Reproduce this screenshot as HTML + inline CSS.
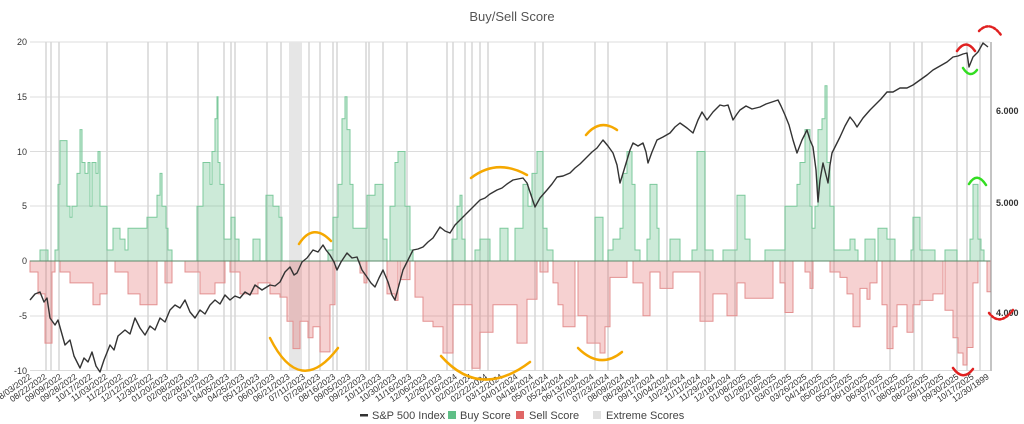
<!DOCTYPE html>
<html><head><meta charset="utf-8"><style>
html,body{margin:0;padding:0;background:#fff;}
svg{display:block;font-family:"Liberation Sans",Arial,sans-serif;}
</style></head><body>
<svg width="1024" height="424" viewBox="0 0 1024 424" xmlns="http://www.w3.org/2000/svg">
<rect width="1024" height="424" fill="#fff"/>
<text x="512" y="21" text-anchor="middle" font-size="13" fill="#555">Buy/Sell Score</text>
<g stroke="#dcdcdc" stroke-width="1">
<line x1="30" x2="990" y1="42" y2="42"/><line x1="30" x2="990" y1="97" y2="97"/>
<line x1="30" x2="990" y1="151.5" y2="151.5"/><line x1="30" x2="990" y1="206" y2="206"/>
<line x1="30" x2="990" y1="316" y2="316"/><line x1="30" x2="990" y1="370.5" y2="370.5"/>
</g>
<rect x="289" y="42" width="13" height="329" fill="#e6e6e6"/>
<path stroke="#d6d6d6" stroke-width="1.5" d="M46 42V371M51 42V371M59 42V371M107 42V371M148 42V371M167 42V371M198 42V371M224 42V371M231 42V371M235 42V371M267 42V371M281 42V371M309 42V371M320 42V371M333 42V371M337 42V371M366 42V371M369 42V371M383 42V371M407 42V371M447 42V371M453 42V371M465 42V371M472 42V371M480 42V371M488 42V371M535 42V371M543 42V371M595 42V371M608 42V371M667 42V371M705 42V371M735 42V371M785 42V371M812 42V371M834 42V371M890 42V371M914 42V371M922 42V371M957 42V371M967 42V371M980 42V371"/>
<path fill="rgba(95,191,135,0.32)" stroke="#7cc99c" stroke-width="1" d="M40 261V250H48V261Z
M55 261V250H58V184.4H60V140.6H67V206.3H70V217.2H72V206.3H77V173.4H80V129.6H82V162.5H85V173.4H88V162.5H90V206.3H92V162.5H96V173.4H98V151.5H100V206.3H107V250H113V228.2H120V239.1H125V250H128V228.2H147V217.2H157V195.3H160V173.4H162V206.3H166V228.2H168V250H172V261Z
M197 261V206.3H203V162.5H210V184.4H212V151.5H215V118.7H217V96.8H218V162.5H220V184.4H224V239.1H231V217.2H235V239.1H239V261Z
M253 261V239.1H260V261Z
M266 261V195.3H273V206.3H279V217.2H282V261Z
M328 261V250H333V217.2H338V184.4H342V118.7H345V96.8H347V129.6H350V184.4H353V228.2H367V195.3H375V184.4H383V239.1H387V261Z
M390 261V206.3H395V162.5H398V151.5H405V206.3H410V250H413V261Z
M452 261V239.1H457V206.3H460V195.3H462V239.1H465V261Z
M475 261V250H480V239.1H490V261Z
M500 261V228.2H508V261Z
M515 261V228.2H523V184.4H528V206.3H532V173.4H537V151.5H543V228.2H547V250H553V261Z
M595 261V217.2H603V261Z
M608 261V250H613V239.1H620V228.2H623V173.4H627V151.5H632V184.4H635V250H640V261Z
M647 261V239.1H650V184.4H657V228.2H659V261Z
M670 261V239.1H680V261Z
M692 261V250H697V151.5H705V250H713V261Z
M723 261V250H737V195.3H745V239.1H750V261Z
M765 261V250H785V206.3H797V184.4H800V162.5H805V129.6H810V206.3H812V228.2H815V206.3H818V129.6H822V118.7H825V85.8H827V162.5H830V206.3H834V250H850V239.1H855V250H858V261Z
M865 261V239.1H875V261Z
M878 261V228.2H887V239.1H895V261Z
M911 261V250H913V217.2H920V250H935V261Z
M945 261V250H957V261Z
M970 261V239.1H973V184.4H978V239.1H981V250H984V261Z"/>
<path fill="rgba(224,102,102,0.3)" stroke="#e39090" stroke-width="1" d="M30 261V272H38V293.9H45V343.1H52V272H55V261Z
M60 261V272H70V282.9H93V304.8H100V293.9H107V261Z
M115 261V272H128V293.9H140V304.8H157V261Z
M165 261V282.9H172V261Z
M185 261V272H200V293.9H215V282.9H225V261Z
M230 261V272H240V293.9H258V282.9H270V293.9H280V297.1H287V321.2H293V348.6H300V321.2H308V337.7H313V326.7H320V351.9H330V304.8H335V261Z
M360 261V273H364V282.9H367V261Z
M387 261V293.9H395V300.4H398V261Z
M400 261V279.6H410V261Z
M415 261V297.1H423V321.2H433V326.7H443V353H453V304.8H472V368.3H480V332.2H493V304.8H517V343.1H527V299.3H537V261Z
M540 261V272H548V261Z
M553 261V282.9H558V304.8H563V326.7H575V261Z
M578 261V315.8H587V343.1H600V353H605V326.7H610V277.4H627V261Z
M633 261V282.9H643V315.8H650V272H660V288.4H673V272H700V321.2H713V293.9H727V315.8H737V282.9H745V298.2H773V261Z
M780 261V282.9H785V312.5H793V261Z
M805 261V272H810V288.4H813V261Z
M830 261V272H840V277.4H847V293.9H853V326.7H860V288.4H867V299.3H870V282.9H877V261Z
M882 261V304.8H887V348.6H893V326.7H897V304.8H907V332.2H913V304.8H920V300.4H933V293.9H943V261Z
M945 261V310.3H953V337.7H958V353H963V365H967V347.5H973V282.9H978V261Z
M987 261V291.7H991V261Z"/>
<line x1="30" x2="990" y1="261" y2="261" stroke="#5a8a6a" stroke-width="1"/>
<polyline fill="none" stroke="#333" stroke-width="1.4" stroke-linejoin="round" points="30,300 35,294 40,292 44,302 47,298 50,318 55,325 58,320 65,345 70,340 74,356 80,368 84,358 88,362 92,352 96,366 100,372 104,360 110,345 114,350 118,336 125,330 130,334 135,318 140,328 145,335 150,326 155,330 160,318 165,322 170,310 175,305 180,308 185,300 190,312 195,318 200,310 205,314 210,305 215,300 220,304 225,295 230,300 235,296 240,298 245,292 250,295 255,285 262,290 270,285 275,286 280,282 285,272 290,267 294,275 297,273 302,262 307,258 313,250 318,252 323,245 326,250 330,255 334,262 337,270 341,262 347,253 352,258 357,257 362,270 367,277 371,283 375,287 379,278 383,270 388,282 392,295 395,300 399,285 403,270 408,260 413,250 418,249 423,247 428,242 433,238 440,227 445,231 450,233 455,225 460,220 465,215 470,210 475,205 480,200 485,198 490,194 497,190 502,188 507,184 513,180 518,179 523,178 527,183 531,195 535,207 540,198 547,190 552,184 557,177 563,176 570,173 575,168 580,164 587,157 592,152 597,148 603,140 608,146 613,153 617,165 620,183 624,170 627,160 630,150 633,143 638,146 643,143 646,152 648,163 652,152 657,140 663,137 670,133 675,127 680,123 687,128 693,133 698,120 702,112 707,120 713,112 720,105 724,106 728,105 733,120 737,114 740,110 746,106 752,109 760,107 766,104 772,102 778,100 781,106 785,115 789,125 793,140 797,153 802,140 807,130 810,140 813,147 816,170 818,202 820,180 823,163 826,175 828,183 830,165 832,153 836,145 840,137 845,126 850,117 854,122 857,127 863,118 870,110 876,104 881,99 887,92 893,92 900,88 907,88 913,85 920,80 927,75 933,70 940,66 947,62 953,57 958,56 963,54 967,53 969,67 971,62 973,57 978,52 983,43 988,47"/>
<line x1="991" x2="991" y1="42" y2="371" stroke="#888" stroke-width="1"/>
<g font-size="9" fill="#333" text-anchor="end">
<text x="27" y="45">20</text><text x="27" y="100">15</text><text x="27" y="155">10</text>
<text x="27" y="209">5</text><text x="27" y="264">0</text><text x="27" y="319">-5</text><text x="27" y="374">-10</text>
</g>
<g font-size="9" fill="#333" font-weight="bold">
<text x="996" y="114">6.000</text><text x="996" y="206">5.000</text><text x="996" y="316">4.000</text>
</g>
<g font-size="8.5" fill="#333" text-anchor="end">
<text transform="translate(32,378) rotate(-35)">08/03/2022</text>
<text transform="translate(47.2,378) rotate(-35)">08/22/2022</text>
<text transform="translate(62.4,378) rotate(-35)">09/09/2022</text>
<text transform="translate(77.6,378) rotate(-35)">09/28/2022</text>
<text transform="translate(92.8,378) rotate(-35)">10/17/2022</text>
<text transform="translate(108,378) rotate(-35)">11/03/2022</text>
<text transform="translate(123.2,378) rotate(-35)">11/22/2022</text>
<text transform="translate(138.4,378) rotate(-35)">12/12/2022</text>
<text transform="translate(153.6,378) rotate(-35)">12/30/2022</text>
<text transform="translate(168.8,378) rotate(-35)">01/20/2023</text>
<text transform="translate(184,378) rotate(-35)">02/08/2023</text>
<text transform="translate(199.2,378) rotate(-35)">02/28/2023</text>
<text transform="translate(214.4,378) rotate(-35)">03/17/2023</text>
<text transform="translate(229.6,378) rotate(-35)">04/05/2023</text>
<text transform="translate(244.8,378) rotate(-35)">04/25/2023</text>
<text transform="translate(260,378) rotate(-35)">05/12/2023</text>
<text transform="translate(275.2,378) rotate(-35)">06/01/2023</text>
<text transform="translate(290.4,378) rotate(-35)">06/21/2023</text>
<text transform="translate(305.6,378) rotate(-35)">07/11/2023</text>
<text transform="translate(320.8,378) rotate(-35)">07/28/2023</text>
<text transform="translate(336,378) rotate(-35)">08/16/2023</text>
<text transform="translate(351.2,378) rotate(-35)">09/05/2023</text>
<text transform="translate(366.4,378) rotate(-35)">09/22/2023</text>
<text transform="translate(381.6,378) rotate(-35)">10/11/2023</text>
<text transform="translate(396.8,378) rotate(-35)">10/30/2023</text>
<text transform="translate(412,378) rotate(-35)">11/16/2023</text>
<text transform="translate(427.2,378) rotate(-35)">12/06/2023</text>
<text transform="translate(442.4,378) rotate(-35)">12/26/2023</text>
<text transform="translate(457.6,378) rotate(-35)">01/16/2024</text>
<text transform="translate(472.8,378) rotate(-35)">02/02/2024</text>
<text transform="translate(488,378) rotate(-35)">02/22/2024</text>
<text transform="translate(503.2,378) rotate(-35)">03/12/2024</text>
<text transform="translate(518.4,378) rotate(-35)">04/01/2024</text>
<text transform="translate(533.6,378) rotate(-35)">04/18/2024</text>
<text transform="translate(548.8,378) rotate(-35)">05/07/2024</text>
<text transform="translate(564,378) rotate(-35)">05/24/2024</text>
<text transform="translate(579.2,378) rotate(-35)">06/13/2024</text>
<text transform="translate(594.4,378) rotate(-35)">07/03/2024</text>
<text transform="translate(609.6,378) rotate(-35)">07/23/2024</text>
<text transform="translate(624.8,378) rotate(-35)">08/09/2024</text>
<text transform="translate(640,378) rotate(-35)">08/28/2024</text>
<text transform="translate(655.2,378) rotate(-35)">09/17/2024</text>
<text transform="translate(670.4,378) rotate(-35)">10/04/2024</text>
<text transform="translate(685.6,378) rotate(-35)">10/23/2024</text>
<text transform="translate(700.8,378) rotate(-35)">11/11/2024</text>
<text transform="translate(716,378) rotate(-35)">11/29/2024</text>
<text transform="translate(731.2,378) rotate(-35)">12/18/2024</text>
<text transform="translate(746.4,378) rotate(-35)">01/08/2025</text>
<text transform="translate(761.6,378) rotate(-35)">01/28/2025</text>
<text transform="translate(776.8,378) rotate(-35)">02/18/2025</text>
<text transform="translate(792,378) rotate(-35)">03/07/2025</text>
<text transform="translate(807.2,378) rotate(-35)">03/26/2025</text>
<text transform="translate(822.4,378) rotate(-35)">04/14/2025</text>
<text transform="translate(837.6,378) rotate(-35)">05/02/2025</text>
<text transform="translate(852.8,378) rotate(-35)">05/21/2025</text>
<text transform="translate(868,378) rotate(-35)">06/10/2025</text>
<text transform="translate(883.2,378) rotate(-35)">06/30/2025</text>
<text transform="translate(898.4,378) rotate(-35)">07/17/2025</text>
<text transform="translate(913.6,378) rotate(-35)">08/05/2025</text>
<text transform="translate(928.8,378) rotate(-35)">08/22/2025</text>
<text transform="translate(944,378) rotate(-35)">09/11/2025</text>
<text transform="translate(959.2,378) rotate(-35)">09/30/2025</text>
<text transform="translate(974.4,378) rotate(-35)">10/17/2025</text>
<text transform="translate(989.6,378) rotate(-35)">12/30/1899</text>
</g>
<g fill="none" stroke="#f5a800" stroke-width="2.5" stroke-linecap="round">
<path d="M270,338 Q300,398 338,348"/>
<path d="M299,244 Q313,222 331,241"/>
<path d="M471,178 Q497,158 527,175"/>
<path d="M441,356 Q480,400 530,362"/>
<path d="M586,135 Q600,118 617,130"/>
<path d="M578,348 Q600,370 622,352"/>
</g>
<g fill="none" stroke-width="2.5" stroke-linecap="round">
<path d="M957,51 Q966,38 975,51" stroke="#e02020"/>
<path d="M963,68 Q970,79 977,70" stroke="#33dd22"/>
<path d="M969,184 Q977,171 986,185" stroke="#33dd22"/>
<path d="M953,368 Q963,382 973,369" stroke="#e02020"/>
<path d="M979,31 Q990,20 1001,35" stroke="#e02020" stroke-dasharray="2,2"/>
<path d="M989,313 Q1000,327 1013,310" stroke="#e02020" stroke-dasharray="2,2"/>
</g>
<g font-size="11" fill="#444">
<rect x="360" y="414" width="8" height="2.5" fill="#333"/><text x="372" y="419">S&amp;P 500 Index</text>
<rect x="448" y="411" width="8" height="8" fill="#5fbf87"/><text x="460" y="419">Buy Score</text>
<rect x="516" y="411" width="8" height="8" fill="#e06666"/><text x="529" y="419">Sell Score</text>
<rect x="593" y="411" width="8" height="8" fill="#e0e0e0"/><text x="606" y="419">Extreme Scores</text>
</g>
</svg>
</body></html>
